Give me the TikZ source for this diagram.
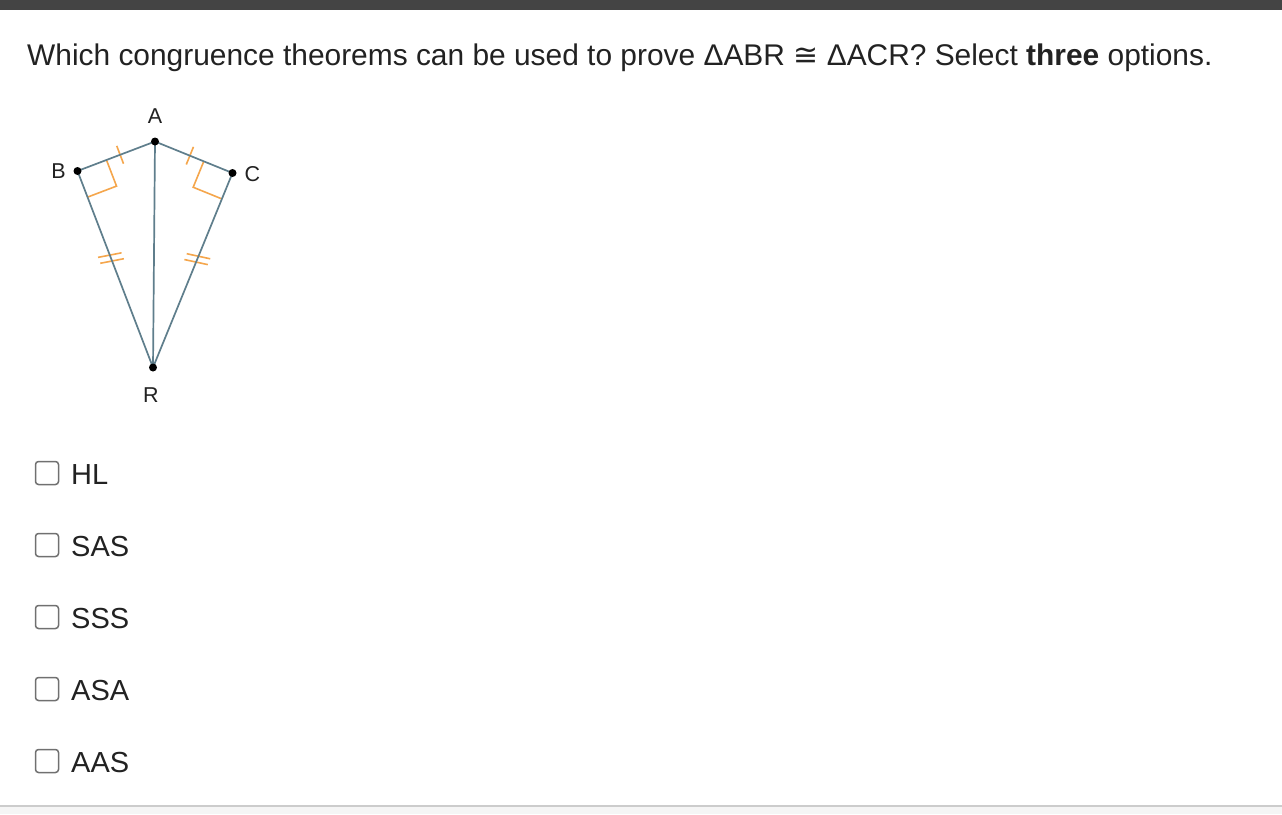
\documentclass[tikz,border=0pt]{standalone}
\usepackage{fontspec}
\usetikzlibrary{calc}
\setmainfont{Liberation Sans}
\newfontfamily\symfont{DejaVu Sans}
\definecolor{txt}{HTML}{222222}
\definecolor{bar}{HTML}{444444}
\definecolor{seg}{HTML}{5F7E8C}
\definecolor{mark}{HTML}{F5A64C}
\definecolor{boxc}{HTML}{707070}
\begin{document}
\begin{tikzpicture}[x=1pt,y=-1pt,
  segline/.style={draw=seg,line width=1.7pt},
  markline/.style={draw=mark,line width=1.6pt},
  dot/.style={circle,fill=black,inner sep=0pt,minimum size=8pt},
  vlabel/.style={font=\fontsize{21.5}{21.5}\selectfont,text=txt},
  cbox/.style={draw=boxc,line width=1.5pt,rounded corners=3pt,minimum size=23pt,inner sep=0pt},
  opt/.style={font=\fontsize{29}{29}\selectfont,text=txt,anchor=west,inner sep=0pt}]
\useasboundingbox (0,0) rectangle (1282,814);
\fill[white] (0,0) rectangle (1282,814);
\fill[bar] (0,0) rectangle (1282,10);
\fill[black!4] (0,806) rectangle (1282,814);
\draw[black!20,line width=2pt] (0,806) -- (1282,806);
% title
\node[anchor=base west,inner sep=0pt,text=txt,font=\fontsize{29.9}{29.9}\selectfont] (title) at (27,65)
 {Which congruence theorems can be used to prove ΔABR {\symfont ≅} ΔACR? Select \textbf{three} options.};
% points
\coordinate (A) at (155,141.5);
\coordinate (B) at (77.5,171);
\coordinate (C) at (232.5,173);
\coordinate (R) at (153,367.5);
% right angle marks
\draw[markline] ($(B)!31pt!(A)$) -- ($(B)!31pt!(A)+(B)!28pt!(R)-(B)$) -- ($(B)!28pt!(R)$);
\draw[markline] ($(C)!31pt!(A)$) -- ($(C)!31pt!(A)+(C)!28pt!(R)-(C)$) -- ($(C)!28pt!(R)$);
% single ticks
\draw[markline] ($(B)!0.55!(A)!9.5pt!90:(A)$) -- ($(B)!0.55!(A)!9.5pt!-90:(A)$);
\draw[markline] ($(C)!0.55!(A)!9.5pt!90:(A)$) -- ($(C)!0.55!(A)!9.5pt!-90:(A)$);
% double ticks
\foreach \t in {0.428,0.458}{
  \draw[markline] ($(B)!\t!(R)!12pt!80:(R)$) -- ($(B)!\t!(R)!12pt!-100:(R)$);
  \draw[markline] ($(C)!\t!(R)!12pt!100:(R)$) -- ($(C)!\t!(R)!12pt!-80:(R)$);
}
% segments
\draw[segline] (B) -- (A) -- (C) -- (R) -- (B);
\draw[segline] (A) -- (R);
\node[dot] (dA) at (A) {};
\node[dot] (dB) at (B) {};
\node[dot] (dC) at (C) {};
\node[dot] (dR) at (R) {};
\node[vlabel] (lA) at (155,116) {A};
\node[vlabel] (lB) at (58.5,171) {B};
\node[vlabel] (lC) at (252.5,174) {C};
\node[vlabel] (lR) at (151,395) {R};
% options
\foreach \y/\l [count=\i] in {473/HL,545/SAS,617/SSS,689/ASA,761/AAS}{
  \node[cbox] (box\i) at (47,\y) {};
  \node[opt] (opt\i) at (71,\y+1.5) {\l};
}
\end{tikzpicture}
\end{document}
